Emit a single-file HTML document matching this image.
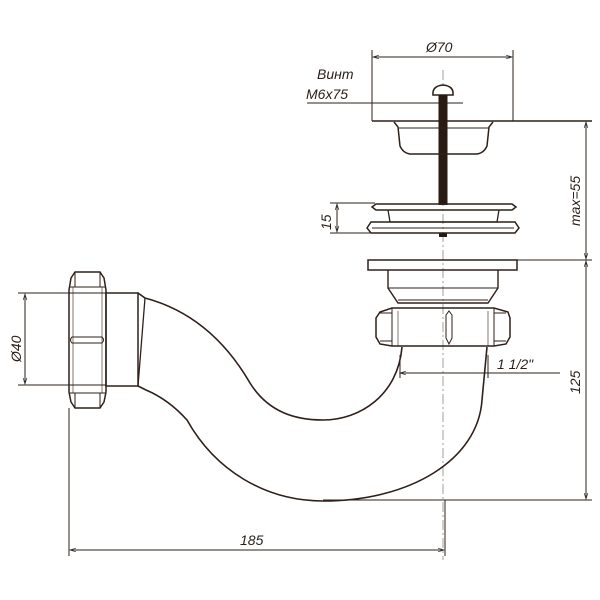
<!DOCTYPE html>
<html><head><meta charset="utf-8"><style>html,body{margin:0;padding:0;background:#fff}svg{display:block}</style></head>
<body>
<svg width="600" height="600" viewBox="0 0 600 600" xmlns="http://www.w3.org/2000/svg" font-family="Liberation Sans, sans-serif" font-style="italic">
<defs><marker id="a" viewBox="0 0 10 10" refX="10" refY="5" markerWidth="8" markerHeight="6" orient="auto-start-reverse"><path d="M0,2 L10,5 L0,8" fill="none" stroke="#333" stroke-width="1.2"/></marker></defs>
<g stroke="#2e201a" fill="none" stroke-width="1">
<line x1="443" y1="70" x2="443" y2="560" stroke-dasharray="10,3,2,3" stroke-width="0.7" stroke="#777"/>
<line x1="372" y1="50" x2="372" y2="121"/><line x1="513" y1="50" x2="513" y2="121"/>
<line x1="373" y1="57" x2="512" y2="57" marker-start="url(#a)" marker-end="url(#a)"/>
<line x1="372" y1="121" x2="592" y2="121" stroke-width="1.6"/>
<line x1="307" y1="103" x2="463" y2="103"/>
<path d="M433,95 Q432,86 443,85 Q454,86 453,95 Z" fill="#fff" stroke-width="1.6"/>
<rect x="438.5" y="95" width="9" height="110" fill="#2a1a14" stroke="none"/>
<path d="M394,122 L398,127 L400,146 Q403,153 410,154 L477,154 Q484,153 487,146 L489,127 L493,122" stroke-width="1.5"/>
<line x1="399" y1="128" x2="489" y2="128"/>
<path d="M372,207 L376,204 L512,204 L516,207 L512,210 L376,210 Z" stroke-width="1.5"/>
<path d="M388,210 L390,222 L497,222 L499,210" stroke-width="1.3"/>
<path d="M367,228 L371,222 L515,222 L519,228 L515,233 L371,233 Z" stroke-width="1.5"/>
<line x1="372" y1="228" x2="514" y2="228"/>
<rect x="439" y="233" width="8" height="4" fill="#2a1a14" stroke="none"/>
<line x1="330" y1="203" x2="375" y2="203"/><line x1="330" y1="233" x2="370" y2="233"/>
<line x1="337" y1="204" x2="337" y2="232" marker-start="url(#a)" marker-end="url(#a)"/>
<rect x="368" y="260" width="149" height="10" stroke-width="1.5"/>
<path d="M388,270 L388,288 L398,303 L488,303 L498,288 L498,270" stroke-width="1.4"/>
<line x1="388" y1="288" x2="498" y2="288"/>
<line x1="398" y1="300" x2="488" y2="300"/>
<path d="M392,308 L494,308 L508,312 L510,318 L510,337 L506,344 L494,346 L392,346 L380,344 L376,337 L376,318 L380,312 Z" stroke-width="1.5"/>
<line x1="392" y1="308" x2="392" y2="346"/><line x1="494" y1="308" x2="494" y2="346"/>
<line x1="380" y1="313" x2="392" y2="313"/><line x1="380" y1="341" x2="392" y2="341"/>
<line x1="494" y1="313" x2="506" y2="313"/><line x1="494" y1="341" x2="506" y2="341"/>
<path d="M449,311 L452,315 L452,338 L449,344 L446,338 L446,315 Z"/>
<line x1="398" y1="311" x2="398" y2="346" stroke-width="0.6"/><line x1="488" y1="311" x2="488" y2="346" stroke-width="0.6"/>
<path d="M138,293 L145,298 C190,310 225,340 250,383 C268,412 295,420 323,420 C360,420 398,395 402,347" stroke-width="1.6"/>
<path d="M138,386 L146,390 C165,398 178,410 187,420 C215,470 265,501 323,501 C410,501 478,460 482,400 L487,347" stroke-width="1.6"/>
<line x1="145" y1="298" x2="138" y2="386" stroke-width="1.3"/>
<rect x="106" y="293" width="32" height="93" stroke-width="1.5"/>
<path d="M75,272 L100,272 L104,278 L106,290 L106,392 L104,402 L100,408 L75,408 L71,402 L69,392 L69,290 L71,278 Z" stroke-width="1.5"/>
<line x1="69" y1="287" x2="106" y2="287"/><line x1="69" y1="393" x2="106" y2="393"/>
<line x1="75" y1="272" x2="75" y2="287"/><line x1="100" y1="272" x2="100" y2="287"/>
<line x1="75" y1="393" x2="75" y2="408"/><line x1="100" y1="393" x2="100" y2="408"/>
<path d="M72,337 L102,337 Q105,340 102,343 L72,343 Q69,340 72,337 Z"/>
<line x1="73" y1="287" x2="73" y2="393" stroke-width="0.6"/><line x1="102" y1="287" x2="102" y2="393" stroke-width="0.6"/>
<line x1="18" y1="293" x2="106" y2="293"/><line x1="18" y1="385" x2="106" y2="385"/>
<line x1="25" y1="294" x2="25" y2="384" marker-start="url(#a)" marker-end="url(#a)"/>
<line x1="400" y1="373" x2="560" y2="373" marker-start="url(#a)"/>
<line x1="400" y1="355" x2="400" y2="378"/><line x1="488" y1="355" x2="488" y2="378"/>
<line x1="516" y1="260" x2="592" y2="260"/>
<line x1="586" y1="122" x2="586" y2="259" marker-start="url(#a)" marker-end="url(#a)"/>
<line x1="586" y1="261" x2="586" y2="499" marker-start="url(#a)" marker-end="url(#a)"/>
<line x1="323" y1="500" x2="592" y2="500"/>
<line x1="69" y1="408" x2="69" y2="556"/><line x1="445" y1="500" x2="445" y2="556"/>
<line x1="70" y1="550" x2="444" y2="550" marker-start="url(#a)" marker-end="url(#a)"/>
</g>
<g fill="#2a1f1a" font-size="14">
<text x="426" y="52">Ø70</text>
<text x="317" y="79">Винт</text>
<text x="306" y="99">M6x75</text>
<text x="497" y="369">1 1/2"</text>
<text x="240" y="545">185</text>
<text transform="translate(331,230) rotate(-90)">15</text>
<text transform="translate(21,362) rotate(-90)">Ø40</text>
<text transform="translate(580,226) rotate(-90)">max=55</text>
<text transform="translate(580,394) rotate(-90)">125</text>
</g>
</svg>
</body></html>
